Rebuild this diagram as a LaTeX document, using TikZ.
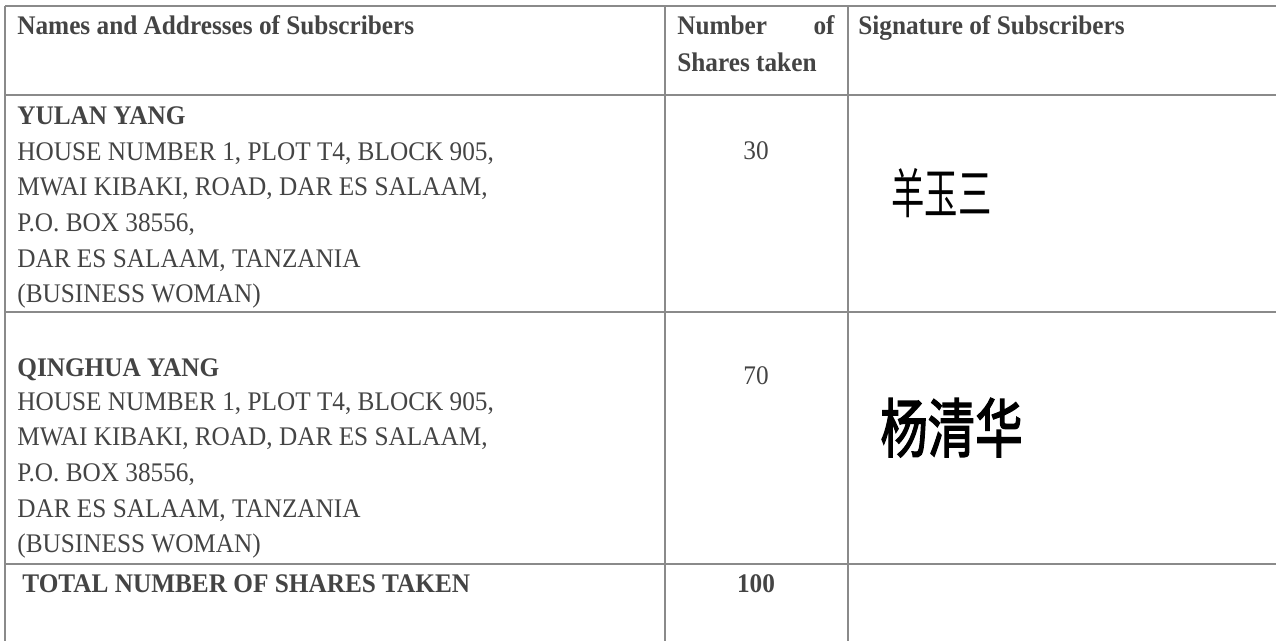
\documentclass[tikz,border=0pt]{standalone}
\usepackage{fontspec}
\setmainfont[FakeStretch=0.94]{Liberation Serif}
\newfontfamily\cjk{Noto Sans CJK SC}
\newfontfamily\cjkheavy[FakeBold=2.5]{Noto Sans CJK SC}
\usetikzlibrary{positioning}

\definecolor{ink}{HTML}{444444}
\definecolor{rule}{HTML}{8A8A8A}

\tikzset{
  cell/.style={anchor=base west, inner sep=0pt, text=ink, align=left,
    font=\fontsize{15.3}{20.3}\selectfont},
  head/.style={cell, font=\fontsize{15.3}{20.3}\selectfont\bfseries},
  num/.style={cell, anchor=base},
  sign/.style={anchor=base west, inner sep=0pt, text=black},
  grid/.style={draw=rule, line width=1.2pt}
}

\begin{document}
\begin{tikzpicture}[x=0.02cm, y=-0.02cm]
      \useasboundingbox (0,0) rectangle (1276,641);

      % table rules
      \draw [grid] (5,6) -- (1276,6);
      \draw [grid] (5,95) -- (1276,95);
      \draw [grid] (5,312) -- (1276,312);
      \draw [grid] (5,564) -- (1276,564);
      \draw [grid] (5,6) -- (5,641);
      \draw [grid] (665,6) -- (665,641);
      \draw [grid] (848,6) -- (848,641);

      % header row
      \node (hname) at (17,35) [head] {Names and Addresses of Subscribers};
      \node (hnum1) at (677,35) [head] {Number};
      \node (hnumof) at (835,35) [head, anchor=base east] {of};
      \node (hnum2) at (677,72) [head] {Shares taken};
      \node (hsig) at (858,35) [head] {Signature of Subscribers};

      % first subscriber (base = last line)
      \node (y1name) at (17,125) [head] {YULAN YANG};
      \node (y1addr) at (17,303) [cell]
      {HOUSE NUMBER 1, PLOT T4, BLOCK 905,\\
       MWAI KIBAKI, ROAD, DAR ES SALAAM,\\
       P.O. BOX 38556,\\
       DAR ES SALAAM, TANZANIA\\
       (BUSINESS WOMAN)};
      \node (y1num) at (756,160) [num] {30};
      \node (y1sig) at (891,214) [sign, font=\cjk\fontsize{19}{19}\selectfont]
      {\scalebox{1}[1.6]{羊玉三}};

      % second subscriber
      \node (q2name) at (17,377) [head] {QINGHUA YANG};
      \node (q2addr) at (17,553) [cell]
      {HOUSE NUMBER 1, PLOT T4, BLOCK 905,\\
       MWAI KIBAKI, ROAD, DAR ES SALAAM,\\
       P.O. BOX 38556,\\
       DAR ES SALAAM, TANZANIA\\
       (BUSINESS WOMAN)};
      \node (q2num) at (756,385) [num] {70};
      \node (q2sig) at (880,452) [sign, font=\cjkheavy\fontsize{27}{27}\selectfont]
      {\scalebox{1}[1.35]{杨清华}};

      % total row
      \node (tname) at (22,593) [head] {TOTAL NUMBER OF SHARES TAKEN};
      \node (tnum) at (756,593) [num, font=\fontsize{15.3}{20.3}\selectfont\bfseries] {100};
\end{tikzpicture}
\end{document}
